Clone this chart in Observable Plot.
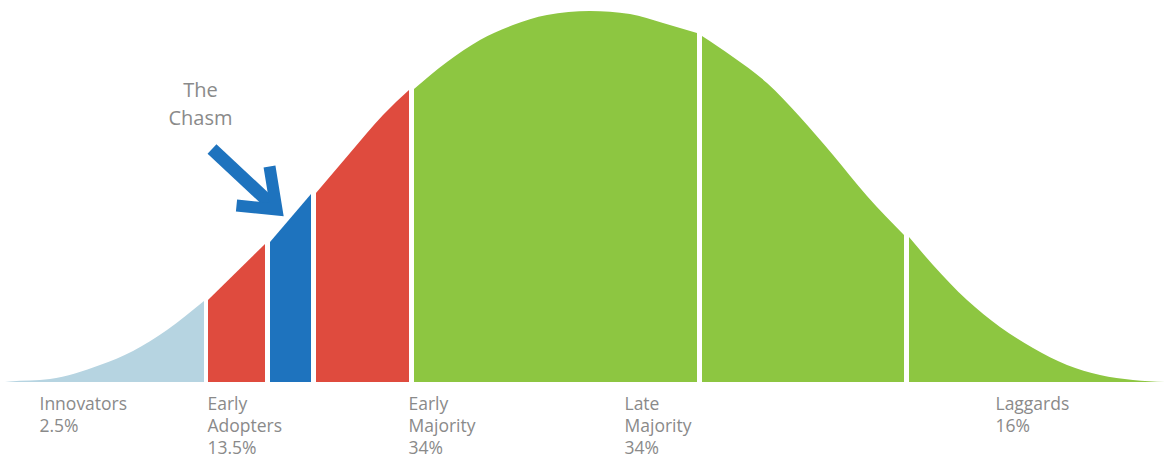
<!DOCTYPE html>
<html><head><meta charset="utf-8">
<script src="https://cdn.jsdelivr.net/npm/d3@7"></script>
<script src="https://cdn.jsdelivr.net/npm/@observablehq/plot@0.6"></script>
<style>html,body{margin:0;padding:0;background:#fff}</style>
</head><body><div id="chart"></div>
<script>
// Bell curve readings: position along the adoption axis and curve height
const curveX = [5, 10, 50, 100, 133, 167, 204, 208, 265, 270, 311, 316, 350, 383, 409, 414, 447, 480, 513, 547, 590, 630, 663, 697, 702, 733, 767, 800, 833, 867, 904, 909, 933, 967, 1000, 1033, 1067, 1100, 1133, 1165];
const curveH = [0, 0.5, 3, 17, 31, 52, 81, 82, 138, 140, 188, 189, 229, 267, 292, 293, 320, 342, 357, 367, 371, 368, 359, 349, 346, 325, 299, 265, 227, 186, 147, 145, 117, 82, 55, 34, 17, 7, 2, 0];

// Segments of the curve
const segStart = [5, 208, 270, 316, 414, 702, 909];
const segEnd   = [204, 265, 311, 409, 697, 904, 1165];
const segColor = ["#b6d4e1", "#df4b3e", "#1e73be", "#df4b3e", "#8dc641", "#8dc641", "#8dc641"];

// Category labels under the curve
const labelNames = ["Innovators", "Early\nAdopters", "Early\nMajority", "Late\nMajority", "Laggards"];
const labelPct   = ["2.5%", "13.5%", "34%", "34%", "16%"];
const labelX     = [39, 207, 408, 624, 995];

// Annotation
const chasmText = "The\nChasm";
const chasmX = 200, chasmY = 305;
const arrowShaft = [{x1: 211.5, y1: 233.5, x2: 272, y2: 177}];
const arrowHead = [{x: 236, y: 177}, {x: 276, y: 173}, {x: 269, y: 216}];

const points = curveX.map((x, i) => ({
  x, h: curveH[i],
  seg: segStart.findIndex((s, j) => x >= s && x <= segEnd[j])
})).filter(d => d.seg >= 0);

const labels = labelNames.map((n, i) => ({x: labelX[i], text: n + "\n" + labelPct[i]}));

const chart = Plot.plot({
  width: 1165,
  height: 459,
  marginTop: 0, marginLeft: 0, marginRight: 0, marginBottom: 77,
  x: {domain: [0, 1165], axis: null},
  y: {domain: [0, 382], axis: null},
  style: {background: "#fff", fontFamily: "'Open Sans', sans-serif"},
  marks: [
    Plot.areaY(points, {x: "x", y: "h", z: "seg", fill: d => segColor[d.seg], curve: "monotone-x"}),
    Plot.text(labels, {x: "x", y: 0, text: "text", textAnchor: "start", lineAnchor: "top", dy: 12, fontSize: 17.5, lineHeight: 1.25, fill: "#8a8a8a"}),
    Plot.text([chasmText], {x: chasmX, y: chasmY, text: d => d, textAnchor: "middle", lineAnchor: "top", fontSize: 20, lineHeight: 1.4, fill: "#8a8a8a"}),
    Plot.link(arrowShaft, {x1: "x1", y1: "y1", x2: "x2", y2: "y2", stroke: "#1e73be", strokeWidth: 13, strokeLinecap: "butt"}),
    Plot.line(arrowHead, {x: "x", y: "y", stroke: "#1e73be", strokeWidth: 12, strokeLinejoin: "miter", strokeLinecap: "butt", strokeMiterlimit: 10})
  ]
});
document.getElementById("chart").appendChild(chart);
</script>
</body></html>
